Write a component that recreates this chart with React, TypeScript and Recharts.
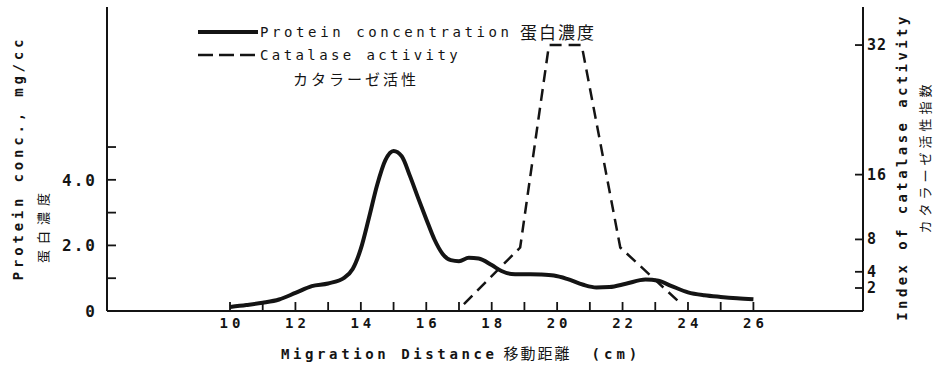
import React from 'react';
import { LineChart, Line, XAxis, YAxis, Legend } from 'recharts';

// Protein concentration (mg/cc) vs migration distance (cm)
const proteinDistance = [
  10.0, 10.5, 11.0, 11.5, 12.0, 12.5, 13.0, 13.5, 13.75, 14.0, 14.25, 14.5, 14.75, 15.0,
  15.25, 15.5, 15.75, 16.0, 16.25, 16.5, 16.75, 17.0, 17.3, 17.6, 18.0, 18.3, 18.6, 19.0,
  19.5, 19.9, 20.3, 20.8, 21.2, 21.6, 22.1, 22.7, 23.1, 23.5, 24.0, 24.5, 25.0, 25.5, 26.0,
];
const proteinConc = [
  0.12, 0.18, 0.25, 0.35, 0.55, 0.76, 0.84, 1.02, 1.28, 1.9, 2.85, 3.85, 4.6, 4.88,
  4.72, 4.12, 3.45, 2.8, 2.18, 1.74, 1.55, 1.52, 1.62, 1.6, 1.4, 1.22, 1.13, 1.12,
  1.11, 1.08, 0.98, 0.8, 0.72, 0.73, 0.83, 0.96, 0.92, 0.76, 0.57, 0.48, 0.43, 0.39, 0.36,
];

// Catalase activity index vs migration distance
const catalaseDistance = [17.15, 18.87, 19.75, 20.75, 21.93, 23.8];
const catalaseIndex = [0, 7, 32, 32, 7, 0];

const xTicks = [10, 11, 12, 13, 14, 15, 16, 17, 18, 19, 20, 21, 22, 23, 24, 25, 26];
const leftTicks = [0, 1, 2, 3, 4, 5];
const leftTickLabels: Record<number, string> = { 0: '0', 2: '2.0', 4: '4.0' };
const rightTicks = [2, 4, 8, 16, 32];

const xDomain: [number, number] = [6.24, 29.35];
const leftDomain: [number, number] = [0, 9.27];
const rightDomain: [number, number] = [-0.84, 36.7];

const proteinData = proteinDistance.map((d, i) => ({ d, protein: proteinConc[i] }));
const catalaseData = catalaseDistance.map((d, i) => ({ d, catalase: catalaseIndex[i] }));

const MONO = '"DejaVu Sans Mono", "Liberation Mono", monospace';
const CJK = '"Noto Sans CJK JP", "Noto Sans CJK SC", sans-serif';
const INK = '#141414';

const XTick = (props: any) => {
  const { x, y, payload } = props;
  const v = payload.value;
  return (
    <g>
      <line x1={x} y1={y - 1} x2={x} y2={y - 9} stroke={INK} strokeWidth={1.8} />
      {v % 2 === 0 ? (
        <text x={x + 2} y={y + 17} textAnchor="middle" fontFamily={MONO} fontWeight="bold" fontSize={14} letterSpacing={4} fill={INK}>
          {v}
        </text>
      ) : null}
    </g>
  );
};

const LeftTick = (props: any) => {
  const { x, y, payload } = props;
  const label = leftTickLabels[payload.value] || '';
  return (
    <g>
      <line x1={x + 10} y1={y} x2={x + 19} y2={y} stroke={INK} strokeWidth={1.8} />
      <text x={x} y={y + 6} textAnchor="end" fontFamily={MONO} fontWeight="bold" fontSize={16} letterSpacing={2} fill={INK}>
        {label}
      </text>
    </g>
  );
};

const RightTick = (props: any) => {
  const { x, y, payload } = props;
  return (
    <g>
      <line x1={x - 4} y1={y} x2={x - 12} y2={y} stroke={INK} strokeWidth={1.8} />
      <text x={x} y={y + 5} textAnchor="start" fontFamily={MONO} fontWeight="bold" fontSize={15} letterSpacing={1} fill={INK}>
        {payload.value}
      </text>
    </g>
  );
};

const LeftTitle = () => (
  <g>
    <text x={23} y={158} transform="rotate(-90 23 158)" textAnchor="middle" fontFamily={MONO} fontWeight="bold" fontSize={14} letterSpacing={3.8} fill={INK}>
      Protein conc., mg/cc
    </text>
    <text x={48} y={225} transform="rotate(-90 48 225)" textAnchor="middle" fontFamily={CJK} fontSize={13} letterSpacing={6} fill={INK}>
      蛋白濃度
    </text>
  </g>
);

const RightTitle = () => (
  <g>
    <text x={907} y={167} transform="rotate(-90 907 167)" textAnchor="middle" fontFamily={MONO} fontWeight="bold" fontSize={14} letterSpacing={3.4} fill={INK}>
      Index of catalase activity
    </text>
    <text x={930} y={157} transform="rotate(-90 930 157)" textAnchor="middle" fontFamily={CJK} fontSize={13} letterSpacing={4} fill={INK}>
      カタラーゼ活性指数
    </text>
  </g>
);

const BottomTitle = () => (
  <text x={281} y={359} textAnchor="start" fill={INK}>
    <tspan fontFamily={MONO} fontWeight="bold" fontSize={14} letterSpacing={3.6}>Migration Distance</tspan>
    <tspan dx={6} fontFamily={CJK} fontSize={15} letterSpacing={2}>移動距離</tspan>
    <tspan dx={20} fontFamily={MONO} fontWeight="bold" fontSize={14} letterSpacing={4}>(cm)</tspan>
  </text>
);

const LegendContent = () => (
  <svg width={430} height={85} style={{ overflow: 'visible' }}>
    <line x1={8} y1={17} x2={68} y2={17} stroke={INK} strokeWidth={4} />
    <text x={70} y={22} fontFamily={MONO} fontSize={14} letterSpacing={3.6} fill={INK}>
      Protein concentration
    </text>
    <text x={330} y={24} fontFamily={CJK} fontSize={17} letterSpacing={2} fill={INK}>
      蛋白濃度
    </text>
    <line x1={8} y1={40} x2={68} y2={40} stroke={INK} strokeWidth={2.4} strokeDasharray="15 6" />
    <text x={70} y={45} fontFamily={MONO} fontSize={14} letterSpacing={3.4} fill={INK}>
      Catalase activity
    </text>
    <text x={103} y={70} fontFamily={CJK} fontSize={15} letterSpacing={3} fill={INK}>
      カタラーゼ活性
    </text>
  </svg>
);

export default function App() {
  return (
    <div style={{ position: 'absolute', left: 0, top: 0, width: 936, height: 369, background: '#ffffff' }}>
      <LineChart width={936} height={369} margin={{ top: 7, right: 0, bottom: 0, left: 0 }}>
        <XAxis
          xAxisId="top"
          orientation="top"
          type="number"
          dataKey="d"
          domain={xDomain}
          allowDataOverflow
          height={0}
          tick={false}
          tickLine={false}
          axisLine={{ stroke: INK, strokeWidth: 2 }}
        />
        <XAxis
          type="number"
          dataKey="d"
          domain={xDomain}
          allowDataOverflow
          ticks={xTicks}
          interval={0}
          height={58}
          tickSize={0}
          tickMargin={0}
          tickLine={false}
          tick={<XTick />}
          axisLine={{ stroke: INK, strokeWidth: 2 }}
          label={<BottomTitle />}
        />
        <YAxis
          yAxisId="l"
          type="number"
          domain={leftDomain}
          allowDataOverflow
          ticks={leftTicks}
          interval={0}
          width={107}
          tickSize={0}
          tickMargin={10}
          tickLine={false}
          tick={<LeftTick />}
          axisLine={{ stroke: INK, strokeWidth: 2 }}
          label={<LeftTitle />}
        />
        <YAxis
          yAxisId="r"
          orientation="right"
          type="number"
          domain={rightDomain}
          allowDataOverflow
          ticks={rightTicks}
          interval={0}
          width={73}
          tickSize={0}
          tickMargin={4}
          tickLine={false}
          tick={<RightTick />}
          axisLine={{ stroke: INK, strokeWidth: 2 }}
          label={<RightTitle />}
        />
        <Legend
          layout="vertical"
          align="center"
          verticalAlign="middle"
          wrapperStyle={{ position: 'absolute', left: 190, top: 15, width: 430, height: 85 }}
          content={<LegendContent />}
        />
        <Line
          yAxisId="l"
          data={proteinData}
          dataKey="protein"
          type="monotone"
          stroke={INK}
          strokeWidth={4}
          dot={false}
          isAnimationActive={false}
        />
        <Line
          yAxisId="r"
          data={catalaseData}
          dataKey="catalase"
          type="linear"
          stroke={INK}
          strokeWidth={2.5}
          strokeDasharray="12 7"
          dot={false}
          isAnimationActive={false}
        />
      </LineChart>
    </div>
  );
}
